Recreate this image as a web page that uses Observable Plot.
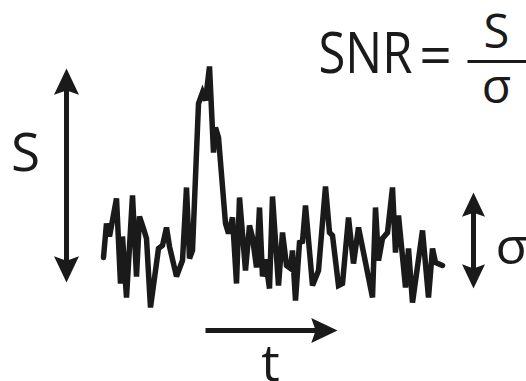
<!DOCTYPE html>
<html><head><meta charset="utf-8">
<script src="https://cdn.jsdelivr.net/npm/d3@7"></script>
<script src="https://cdn.jsdelivr.net/npm/@observablehq/plot@0.6"></script>
<style>html,body{margin:0;padding:0;background:#fff;} svg{display:block}</style>
</head><body><div id="chart"></div>
<script>
// Trace of the signal (time in arbitrary units, amplitude in arbitrary units)
const time = [0,3,6,13,17,19,23,29,33,36,40,43,47,55,59,63,66,73,79,83,86,89,95,99,102,106,110,112,115,122,125,129,133,136,142,146,149,153,156,159,162,166,169,175,179,183,187,189,192,196,199,202,209,215,222,226,229,235,239,245,250,255,269,272,275,279,284,289,292,295,302,305,309,319,325,329,332,339];
const signal = [43,77,64,102,17,64,3,105,24,84,72,62,-7,52,55,73,54,24,40,113,42,50,197,208,200,234,148,173,163,77,67,83,17,103,30,75,63,33,93,24,41,12,104,15,68,35,32,50,0,58,59,95,15,30,114,68,65,15,17,83,37,73,3,93,40,62,68,113,48,85,13,52,-2,70,3,52,38,35];
const signalLabel = "S";
const noiseLabel = "σ";
const timeLabel = "t";
const formulaLeft = "SNR";
const formulaEq = "=";
const formulaNum = "S";
const formulaDen = "σ";

const ink = "#1a1a1a";
const font = "Open Sans";
const data = time.map((t, i) => ({t, s: signal[i]}));

function head(dx, dy) {
  return {
    draw(ctx, size) {
      const r = Math.sqrt(size / Math.PI);
      const L = 2.1 * r, notch = 0.35 * r;
      const nx = -dy, ny = dx;
      ctx.moveTo(0, 0);
      ctx.lineTo(-L * dx + r * nx, -L * dy + r * ny);
      ctx.lineTo(-(L - notch) * dx, -(L - notch) * dy);
      ctx.lineTo(-L * dx - r * nx, -L * dy - r * ny);
      ctx.closePath();
    }
  };
}
const up = head(0, -1), down = head(0, 1), right = head(1, 0);

// annotation geometry in data units
const sArrow = {t: -37, top: 232, bottom: 18};
const nArrow = {t: 370, top: 108, bottom: 12};
const tArrow = {s: -30, from: 102, to: 234};

const chart = Plot.plot({
  width: 526, height: 381,
  margin: 0,
  x: {domain: [-103, 423], axis: null},
  y: {domain: [-81, 300], axis: null},
  style: {background: "#fff"},
  marks: [
    Plot.line(data, {x: "t", y: "s", stroke: ink, strokeWidth: 5.5, strokeLinejoin: "miter", strokeMiterlimit: 3}),
    // S arrow
    Plot.link([sArrow], {x1: "t", x2: "t", y1: d => d.bottom + 20, y2: d => d.top - 20, stroke: ink, strokeWidth: 5}),
    Plot.dot([sArrow], {x: "t", y: "top", symbol: up, r: 12.5, fill: ink, stroke: "none"}),
    Plot.dot([sArrow], {x: "t", y: "bottom", symbol: down, r: 12.5, fill: ink, stroke: "none"}),
    // sigma arrow
    Plot.link([nArrow], {x1: "t", x2: "t", y1: d => d.bottom + 18, y2: d => d.top - 18, stroke: ink, strokeWidth: 5}),
    Plot.dot([nArrow], {x: "t", y: "top", symbol: up, r: 11.5, fill: ink, stroke: "none"}),
    Plot.dot([nArrow], {x: "t", y: "bottom", symbol: down, r: 11.5, fill: ink, stroke: "none"}),
    // time arrow
    Plot.link([tArrow], {x1: "from", x2: d => d.to - 20, y1: "s", y2: "s", stroke: ink, strokeWidth: 5}),
    Plot.dot([tArrow], {x: "to", y: "s", symbol: right, r: 12.5, fill: ink, stroke: "none"}),
    // labels
    Plot.text([signalLabel], {x: -78, y: 130, text: d => d, fontSize: 53, fontFamily: font, fill: ink, lineAnchor: "bottom", textAnchor: "middle"}),
    Plot.text([noiseLabel], {x: 392, y: 37, text: d => d, fontSize: 52, fontFamily: font, fill: ink, lineAnchor: "bottom", textAnchor: "start"}),
    Plot.text([timeLabel], {x: 167, y: -80, text: d => d, fontSize: 52, fontFamily: font, fill: ink, lineAnchor: "bottom", textAnchor: "middle"}),
    // formula
    Plot.text([formulaLeft], {x: 215, y: 228, text: d => d, fontSize: 57, fontFamily: font, fill: ink, lineAnchor: "bottom", textAnchor: "start", className: "snr"}),
    Plot.text([formulaEq], {x: 332, y: 226, text: d => d, fontSize: 57, fontFamily: font, fill: ink, lineAnchor: "bottom", textAnchor: "middle"}),
    Plot.link([0], {x1: 364, x2: 430, y1: 239, y2: 239, stroke: ink, strokeWidth: 3}),
    Plot.text([formulaNum], {x: 393, y: 253, text: d => d, fontSize: 47, fontFamily: font, fill: ink, lineAnchor: "bottom", textAnchor: "middle"}),
    Plot.text([formulaDen], {x: 393, y: 198, text: d => d, fontSize: 48, fontFamily: font, fill: ink, lineAnchor: "bottom", textAnchor: "middle"})
  ]
});
// condense the "SNR" word to the width it has in the reference lettering
d3.select(chart).selectAll(".snr text").attr("textLength", 94).attr("lengthAdjust", "spacingAndGlyphs");
document.getElementById("chart").append(chart);
</script>
</body></html>
